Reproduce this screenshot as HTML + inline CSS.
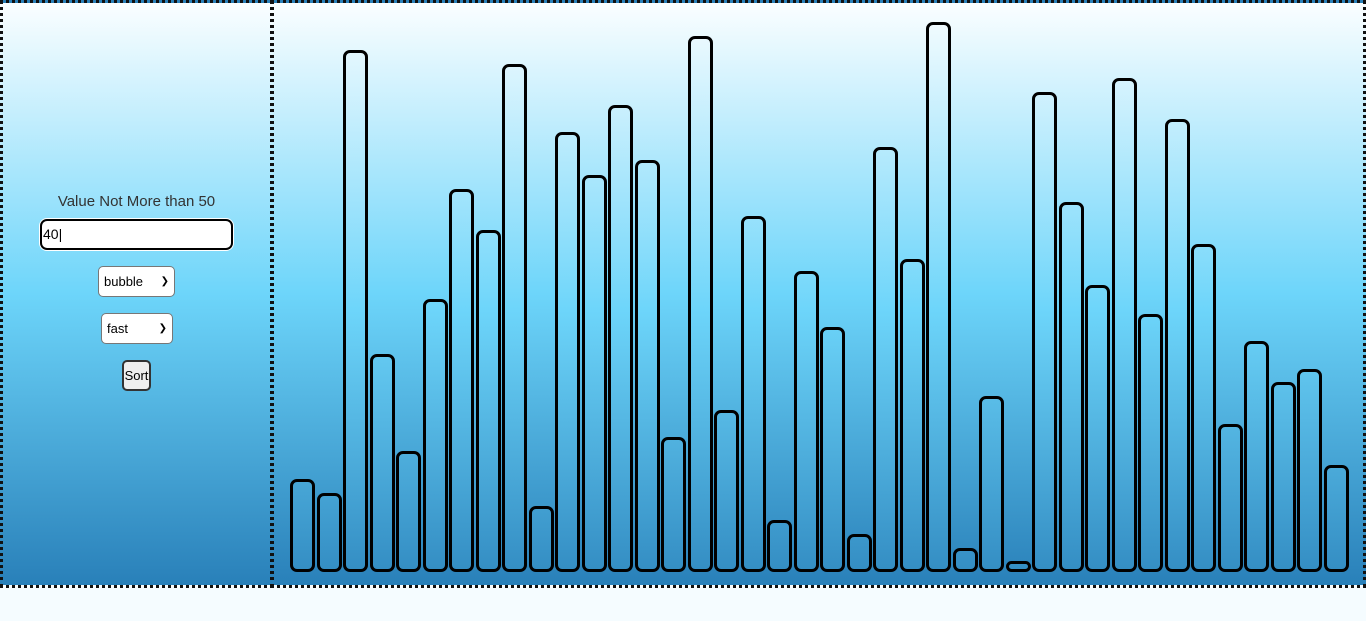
<!DOCTYPE html>
<html><head><meta charset="utf-8"><style>
html,body{margin:0;padding:0;width:1366px;height:621px;overflow:hidden;background:#f5fcff;font-family:"Liberation Sans",sans-serif}
.panel{position:absolute;top:3px;height:582px;border:3px dotted #111;background:linear-gradient(to bottom,#fbfeff 0%,#6dd5fa 50%,#2980b9 100%);box-sizing:border-box}
#left{left:0;width:273px;height:588px;top:0}
#right{left:271px;width:1095px;height:588px;top:0}
.lbl{position:absolute;left:-3px;width:273px;top:190px;text-align:center;font-size:15px;color:#333}
#inp{position:absolute;left:37px;top:216px;width:193px;height:31px;border:2px solid #000;border-radius:7px;background:#fff;box-sizing:border-box;font-size:14px;padding:0 1px;line-height:27px;box-shadow:0 0 0 1px #fff}
.sel{position:absolute;background:#fff;border:1px solid #777;border-radius:5px;box-sizing:border-box;font-size:13px;padding:0 5px;line-height:29px}
.sel span{position:absolute;right:5px;top:0;font-size:10px}
#sort{position:absolute;left:119px;top:357px;width:29px;height:31px;border:2px solid #333;border-radius:5px;background:#efefef;box-sizing:border-box;font-size:13px;line-height:27px;text-align:center}
.bar{position:absolute;border:3px solid #000;border-radius:7px;box-sizing:border-box}
</style></head><body>
<div id="left" class="panel">
 <div class="lbl">Value Not More than 50</div>
 <div id="inp">40|</div>
 <div class="sel" style="left:95px;top:263px;width:77px;height:31px">bubble<span>&#10095;</span></div>
 <div class="sel" style="left:98px;top:310px;width:72px;height:31px">fast<span>&#10095;</span></div>
 <div id="sort">Sort</div>
</div>
<div id="right" class="panel"></div>
<script>
const values=[8.5,7.2,47.5,19.8,11,24.8,34.8,31.1,46.2,6,40,36.1,42.5,37.5,12.3,48.7,14.7,32.4,4.7,27.4,22.3,3.5,38.6,28.5,50,2.2,16,0.9,43.6,33.6,26.1,44.9,23.5,41.2,29.8,13.5,21,17.3,18.5,9.7];
const baseY=572, pxPerUnit=11, x0=290, step=26.5, bw=25;
values.forEach((v,i)=>{
 const d=document.createElement('div');
 d.className='bar';
 
 
 const h=Math.max(v*pxPerUnit,11);
 d.style.left=(x0+i*step)+'px';
 d.style.top=(baseY-h)+'px';
 d.style.width=bw+'px';
 d.style.height=h+'px';
 d.style.background='linear-gradient(to bottom,#fbfeff 0%,#6dd5fa 50%,#2980b9 100%)';
 d.style.backgroundAttachment='fixed';
 document.body.appendChild(d);
});
</script>
</body></html>
